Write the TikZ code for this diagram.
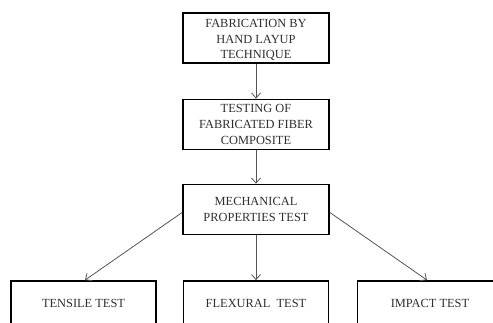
\documentclass[tikz,border=0pt]{standalone}
\usepackage{fontspec}
\setmainfont{Liberation Serif}
\usetikzlibrary{arrows.meta}
\definecolor{txt}{HTML}{2E2E2E}
\definecolor{arr}{HTML}{555555}
\tikzset{
  boxnode/.style={draw=black, line width=1.8pt, minimum width=146pt, minimum height=50pt,
    inner sep=0pt, align=center, text=txt, font=\fontsize{12.4}{15.8}\selectfont},
  botbox/.style={boxnode, minimum width=145pt, minimum height=44pt},
  conn/.style={draw=arr, line width=0.8pt, -{Straight Barb[length=5pt,width=9pt]}}
}
\begin{document}
\begin{tikzpicture}[x=1pt,y=1pt]
\useasboundingbox (0,0) rectangle (493,322);
\clip (0,0) rectangle (493,322);
\node[boxnode] (fab) at (256,284) {};
\node[text=txt, align=center, font=\fontsize{12.4}{15.8}\selectfont] (fabt) at (256,282) {FABRICATION BY\\HAND LAYUP\\TECHNIQUE};
\node[boxnode] (test) at (256,197.5) {TESTING OF\\FABRICATED FIBER\\COMPOSITE};
\node[boxnode] (mech) at (256,112.5) {MECHANICAL\\PROPERTIES TEST};
\node[botbox] (tens) at (83.5,19) {TENSILE TEST};
\node[botbox] (flex) at (256,19) {FLEXURAL\ \ TEST};
\node[botbox] (imp) at (430,19) {IMPACT TEST};
\draw[conn] (fab.south) -- (test.north);
\draw[conn] (test.south) -- (mech.north);
\draw[conn] ([yshift=-3pt]mech.west) -- ([xshift=1.5pt]tens.north);
\draw[conn] (mech.south) -- (flex.north);
\draw[conn] ([yshift=-3pt]mech.east) -- ([xshift=-3pt]imp.north);
\end{tikzpicture}
\end{document}
